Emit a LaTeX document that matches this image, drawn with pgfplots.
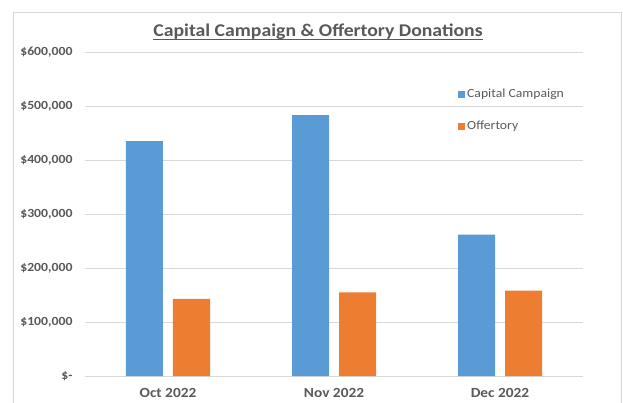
\documentclass[border=0pt]{standalone}
\usepackage{pgfplots}
\pgfplotsset{compat=1.18}
\usepackage{fontspec}
\setmainfont{Carlito}[FakeStretch=1.1]
\definecolor{ccblue}{HTML}{5B9BD5}
\definecolor{offorange}{HTML}{ED7D31}
\definecolor{txtgray}{HTML}{595959}
\definecolor{gridgray}{HTML}{D9D9D9}
\begin{document}
\begin{tikzpicture}[x=1bp,y=1bp]
\begin{axis}[
  scale only axis, width=498bp, height=324bp,
  ybar=10bp, bar width=37bp,
  xmin=-0.5, xmax=2.5, ymin=0, ymax=600000,
  xtick={0,1,2}, xticklabels={Oct 2022, Nov 2022, Dec 2022},
  ytick={0,100000,200000,300000,400000,500000,600000},
  yticklabels={{\$-}, {\$100,000}, {\$200,000}, {\$300,000}, {\$400,000}, {\$500,000}, {\$600,000}},
  axis line style={draw=none},
  tick style={draw=none},
  ymajorgrids, major grid style={gridgray, line width=0.8bp},
  scaled y ticks=false,
  yticklabel style={text=txtgray, font=\fontsize{12.5}{14}\selectfont\bfseries, xshift=-9bp},
  xticklabel style={text=txtgray, font=\fontsize{14}{16}\selectfont\bfseries, yshift=-5bp},
  legend style={at={(0.743,0.898)}, anchor=north west, draw=none, fill=none,
    font=\fontsize{12.5}{14}\selectfont\color{txtgray}, row sep=18bp,
    legend cell align=left},
  legend image code/.code={\fill[#1] (0bp,-3.5bp) rectangle (7bp,3.5bp);},
]
\addplot[fill=ccblue, draw=none] coordinates {(0,435000) (1,483000) (2,262000)};
\addplot[fill=offorange, draw=none] coordinates {(0,143000) (1,155000) (2,158000)};
\legend{Capital Campaign, Offertory}
\coordinate (A) at (rel axis cs:0,0);
\end{axis}
\pgfresetboundingbox
\coordinate (O) at ([shift={(-85bp,-27bp)}]A);
\path[use as bounding box] (O) rectangle ([shift={(623bp,403bp)}]O);
\draw[gridgray, line width=0.8bp] ([shift={(13bp,-5bp)}]O) -- ([shift={(13bp,391bp)}]O) -- ([shift={(621bp,391bp)}]O) -- ([shift={(621bp,-5bp)}]O);
\node[text=txtgray, font=\fontsize{18}{22}\selectfont\bfseries, inner sep=0pt] (T) at ([shift={(318bp,371bp)}]O) {Capital Campaign \& Offertory Donations};
\draw[txtgray, line width=1.1bp] ([yshift=0.5bp]T.south west) -- ([yshift=0.5bp]T.south east);
\end{tikzpicture}
\end{document}
